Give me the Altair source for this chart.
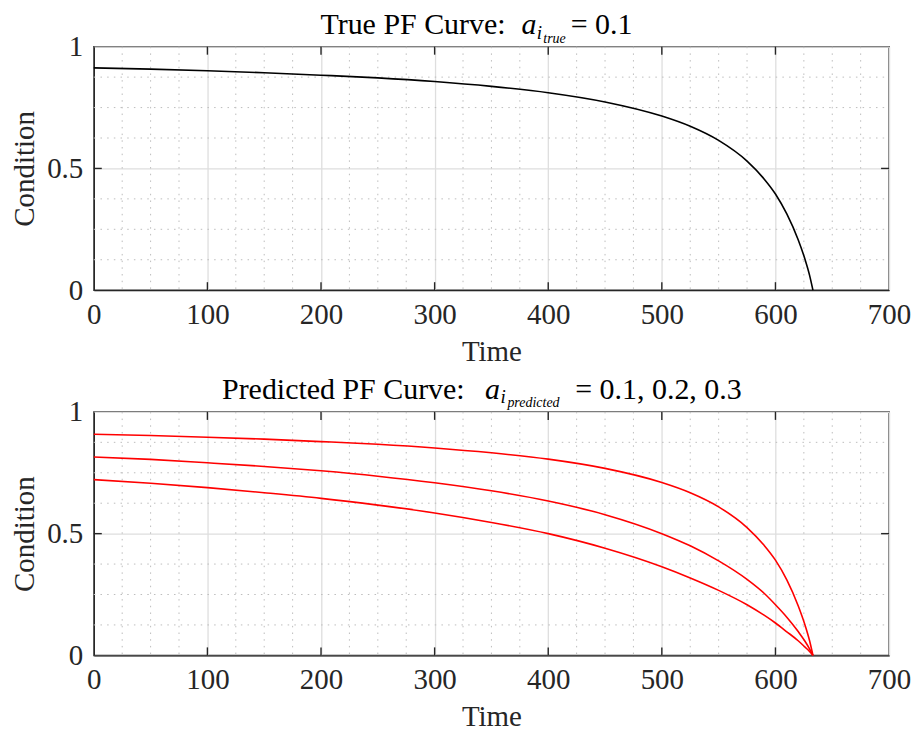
import altair as alt
import pandas as pd

# ---------------- data ----------------
time = [0, 50, 100, 150, 200, 250, 300, 350, 400, 450, 500, 525, 550, 575, 590, 600, 610, 620, 626, 630, 633]
true_a01 = [0.913, 0.908, 0.901, 0.893, 0.883, 0.872, 0.857, 0.837, 0.811, 0.773, 0.715, 0.673, 0.615, 0.530, 0.457, 0.395, 0.313, 0.207, 0.127, 0.062, 0.0]
pred_a01 = [0.908, 0.903, 0.896, 0.888, 0.878, 0.867, 0.852, 0.832, 0.806, 0.768, 0.710, 0.668, 0.610, 0.525, 0.452, 0.391, 0.310, 0.204, 0.125, 0.061, 0.0]
pred_a02 = [0.815, 0.805, 0.791, 0.776, 0.758, 0.736, 0.709, 0.676, 0.634, 0.578, 0.500, 0.450, 0.388, 0.312, 0.255, 0.208, 0.157, 0.098, 0.058, 0.027, 0.0]
pred_a03 = [0.722, 0.707, 0.689, 0.668, 0.645, 0.617, 0.585, 0.546, 0.500, 0.440, 0.364, 0.318, 0.267, 0.208, 0.165, 0.133, 0.097, 0.060, 0.034, 0.016, 0.0]

x_ticks = [0, 100, 200, 300, 400, 500, 600, 700]
y_ticks = [0, 0.5, 1]
x_minor = [v for v in range(0, 701, 25) if v % 100 != 0]
y_minor = [0.125, 0.25, 0.375, 0.625, 0.75, 0.875]

W, H = 797, 244
FONT = "Liberation Serif"
DARK = "#262626"
FS = 29

xs = alt.Scale(domain=[0, 700], nice=False, zero=False)
ys = alt.Scale(domain=[0, 1], nice=False, zero=False)


def one_row():
    return alt.InlineData(values=[{"k": 1}])


def text_seg(txt, x, y, size, italic=False, align="left"):
    return alt.Chart(one_row()).mark_text(
        text=txt, font=FONT, fontSize=size, fontStyle="italic" if italic else "normal",
        align=align, baseline="alphabetic", color="#000000"
    ).encode(x=alt.value(x), y=alt.value(y))


def panel(series, color, title_parts, add_bounds=False):
    rows = []
    for name, vals in series.items():
        for t, v in zip(time, vals):
            rows.append({"time": t, "cond": v, "series": name})
    df = pd.DataFrame(rows)

    lines = alt.Chart(df).mark_line(strokeWidth=1.6, color=color, interpolate="monotone").encode(
        x=alt.X("time:Q", scale=xs, axis=alt.Axis(
            values=x_ticks, format="d", title="Time", grid=True, ticks=False,
            labelFlush=False, labelPadding=10, titleX=W / 2, titleY=70,
            titleAlign="center", titleBaseline="alphabetic")),
        y=alt.Y("cond:Q", scale=ys, axis=alt.Axis(
            values=y_ticks, format="~g", title="Condition", grid=True, ticks=False,
            labelFlush=False, labelPadding=11, titleX=-60, titleY=H / 2,
            titleAlign="center", titleBaseline="alphabetic", titleAngle=-90)),
        detail="series:N",
    )

    minor_x = alt.Chart(pd.DataFrame({"time": x_minor})).mark_rule(
        color="#bdbdbd", strokeWidth=1, strokeDash=[1.5, 5.2]
    ).encode(x=alt.X("time:Q", scale=xs, title="Time"), y=alt.value(0), y2=alt.value(H))
    minor_y = alt.Chart(pd.DataFrame({"cond": y_minor})).mark_rule(
        color="#bdbdbd", strokeWidth=1, strokeDash=[1.5, 5.2]
    ).encode(y=alt.Y("cond:Q", scale=ys, title="Condition"), x=alt.value(0), x2=alt.value(W))

    inner_x = [v for v in x_ticks if 0 < v < 700]
    inner_y = [v for v in y_ticks if 0 < v < 1]
    tick_bot = alt.Chart(pd.DataFrame({"time": inner_x})).mark_rule(color=DARK, strokeWidth=1.4).encode(
        x=alt.X("time:Q", scale=xs, title="Time"), y=alt.value(H - 8), y2=alt.value(H))
    tick_top = alt.Chart(pd.DataFrame({"time": inner_x})).mark_rule(color=DARK, strokeWidth=1.4).encode(
        x=alt.X("time:Q", scale=xs, title="Time"), y=alt.value(0), y2=alt.value(8))
    tick_left = alt.Chart(pd.DataFrame({"cond": inner_y})).mark_rule(color=DARK, strokeWidth=1.4).encode(
        y=alt.Y("cond:Q", scale=ys, title="Condition"), x=alt.value(0), x2=alt.value(8))
    tick_right = alt.Chart(pd.DataFrame({"cond": inner_y})).mark_rule(color=DARK, strokeWidth=1.4).encode(
        y=alt.Y("cond:Q", scale=ys, title="Condition"), x=alt.value(W - 8), x2=alt.value(W))

    layers = [minor_x, minor_y, lines, tick_bot, tick_top, tick_left, tick_right]
    layers += [text_seg(*p[:4], **p[4]) for p in title_parts]
    if add_bounds:
        frame = alt.Chart(one_row()).mark_rect(opacity=0, fill="white").encode(
            x=alt.value(-93.3), x2=alt.value(915 - 93.3), y=alt.value(-45), y2=alt.value(733 - 45))
        layers.append(frame)
    return alt.layer(*layers).properties(width=W, height=H)


top_title = [
    ("True PF Curve:", 412.7, -13, 30, {"align": "right"}),
    ("a", 428.7, -13, 30, {"italic": True}),
    ("i", 444.0, -8, 19, {"italic": True}),
    ("true", 450.5, -4, 14, {"italic": True}),
    ("= 0.1", 478.0, -13, 30, {}),
]
bot_title = [
    ("Predicted PF Curve:", 371.7, -13, 30, {"align": "right"}),
    ("a", 392.0, -13, 30, {"italic": True}),
    ("i", 407.5, -9, 19, {"italic": True}),
    ("predicted", 414.5, -5, 14, {"italic": True}),
    ("= 0.1, 0.2, 0.3", 482.5, -13, 30, {}),
]

top = panel({"a=0.1": true_a01}, "#000000", top_title, add_bounds=True)
bottom = panel({"a=0.1": pred_a01, "a=0.2": pred_a02, "a=0.3": pred_a03}, "#ff0000", bot_title)

chart = alt.vconcat(top, bottom, spacing=122, bounds="flush").properties(
    padding=0, background="white"
).configure_view(
    stroke=DARK, strokeWidth=1.4
).configure_axis(
    labelFont=FONT, labelFontSize=FS, labelColor=DARK,
    titleFont=FONT, titleFontSize=FS, titleFontWeight="normal", titleColor=DARK,
    domainColor=DARK, domainWidth=1.4,
    gridColor="#dedede", gridWidth=1.3,
)

chart.save("out.html", embed_options={"renderer": "svg", "actions": False})
